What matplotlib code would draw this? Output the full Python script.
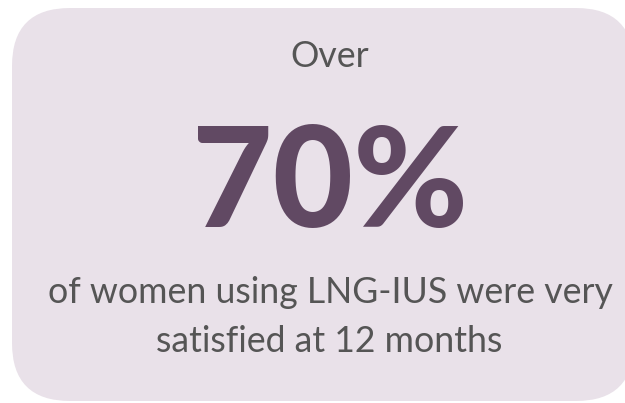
import matplotlib
matplotlib.use("Agg")
import matplotlib.pyplot as plt
from matplotlib.patches import FancyBboxPatch

# texts of the card
top_label = "Over"
big_value = "70%"
bottom_lines = ["of women using LNG-IUS were very", "satisfied at 12 months"]

fill_col = "#E9E1E9"
value_col = "#614963"
text_col = "#555555"

W, H = 625, 403
fig = plt.figure(figsize=(W / 100, H / 100), dpi=100)
ax = fig.add_axes([0, 0, 1, 1])
ax.set_xlim(0, W)
ax.set_ylim(H, 0)
ax.axis("off")

# rounded card, runs a bit past the right edge
r = 58
x0, y0, x1, y1 = 12, 8, 634, 401
card = FancyBboxPatch((x0 + r, y0 + r), x1 - x0 - 2 * r, y1 - y0 - 2 * r,
                      boxstyle="round,pad=%d" % r, fc=fill_col, ec="none")
ax.add_patch(card)

plt.rcParams['font.family'] = ['Lato', 'DejaVu Sans']
ax.text(330, 67, top_label, ha="center", va="baseline", fontsize=25.7, color=text_col)
ax.text(330, 187, big_value, ha="center", va="center", fontsize=100,
        fontweight="black", color=value_col)
ax.text(330, 303, bottom_lines[0], ha="center", va="baseline", fontsize=25.7, color=text_col)
ax.text(329, 352, bottom_lines[1], ha="center", va="baseline", fontsize=25.7, color=text_col)

fig.savefig("out.png", dpi=100)
